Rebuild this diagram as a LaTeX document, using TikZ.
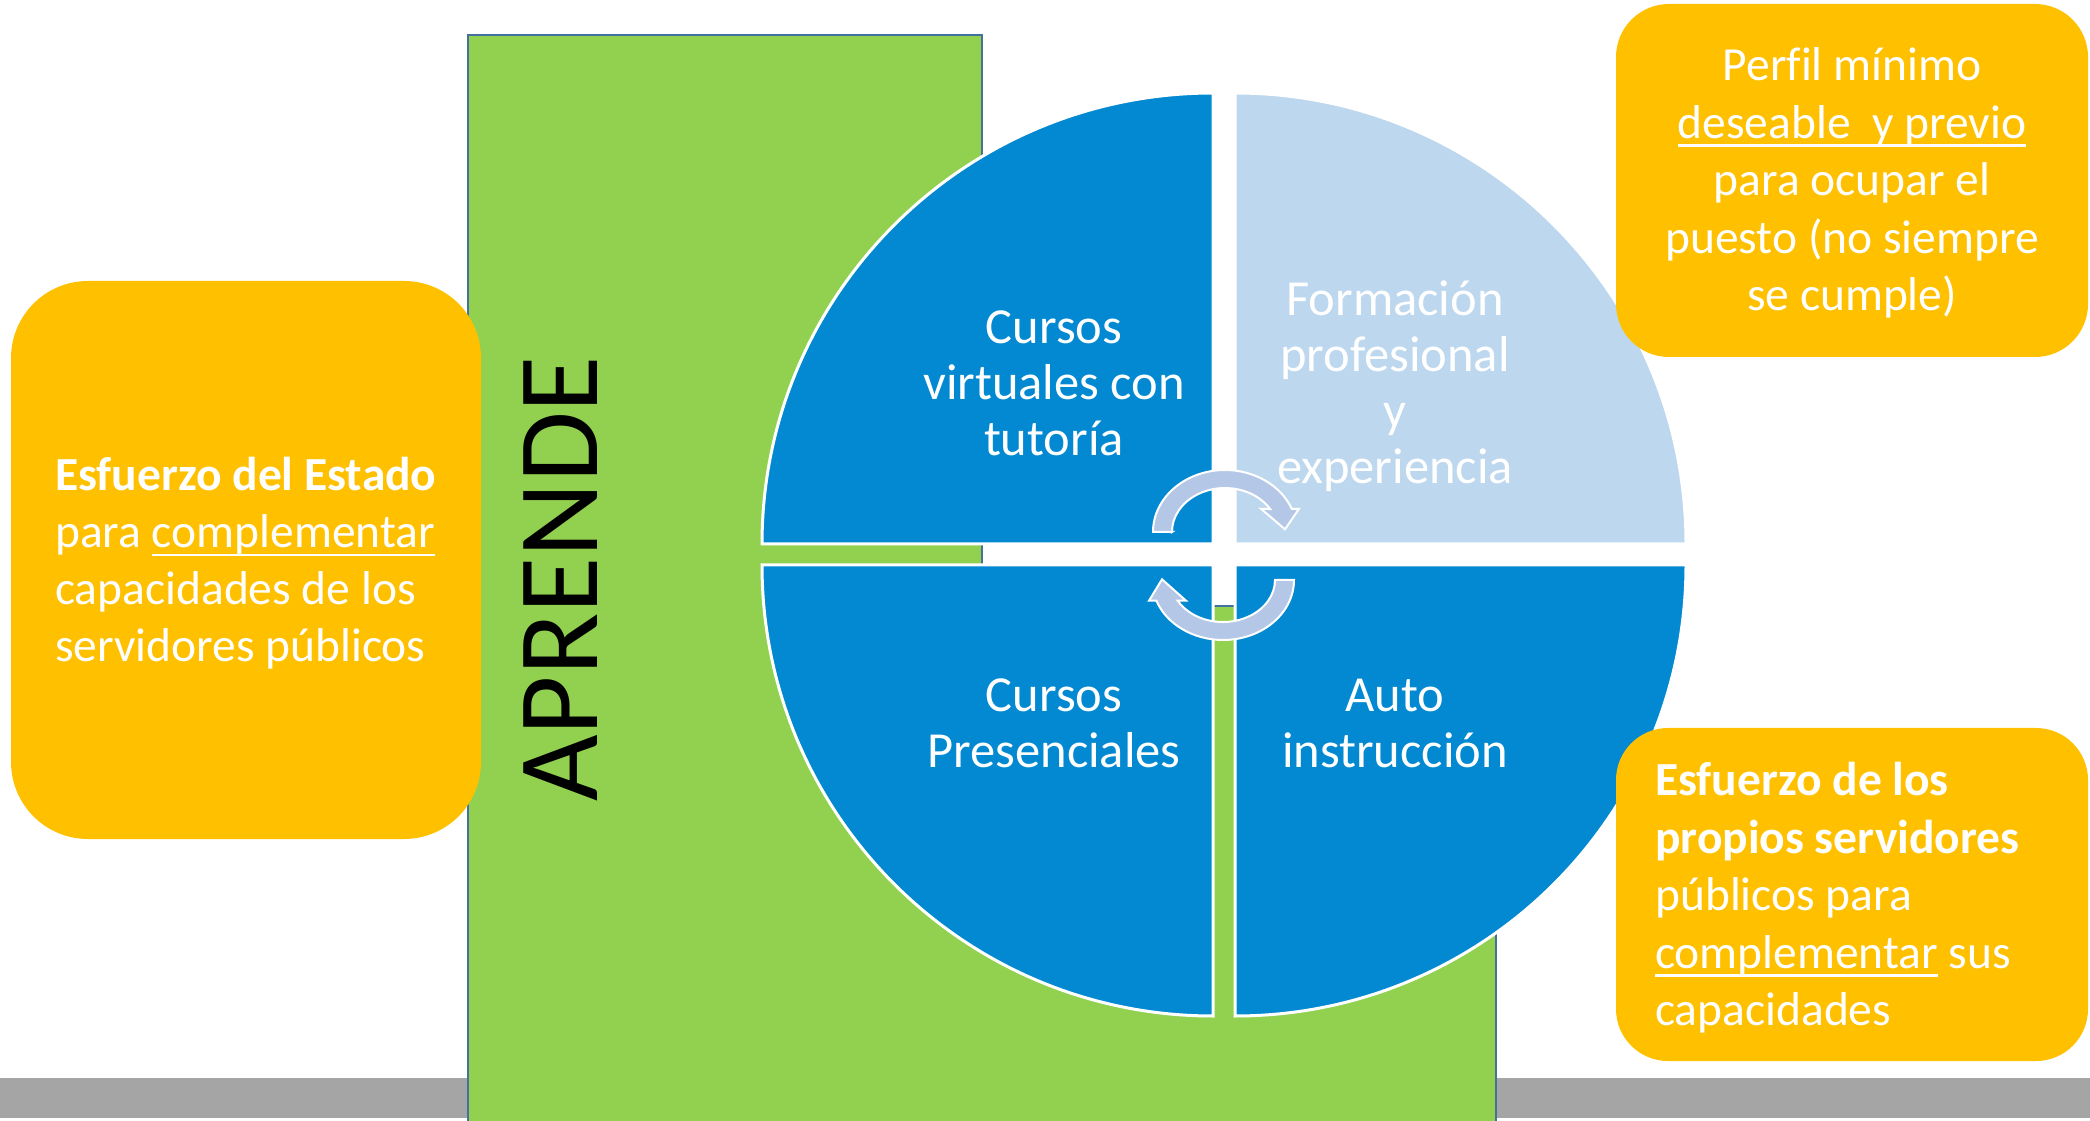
\documentclass[tikz,border=0pt]{standalone}
\usepackage{fontspec}
\setmainfont{Carlito}[Ligatures=NoCommon]
\newcommand\myul[1]{\setbox0\hbox{#1}\rlap{\rule[-8.5pt]{\wd0}{2.5pt}}\box0\relax}
\definecolor{qblue}{RGB}{2,137,209}
\definecolor{qlight}{RGB}{189,215,238}
\definecolor{agreen}{RGB}{146,208,80}
\definecolor{gborder}{RGB}{65,113,156}
\definecolor{obox}{RGB}{255,192,0}
\definecolor{gbar}{RGB}{165,165,165}
\definecolor{arrowc}{RGB}{180,199,231}
\tikzset{
  qtxt/.style={font=\fontsize{50.5}{56}\selectfont, text=white, inner sep=0pt, anchor=base},
  btxt/.style={font=\fontsize{47.5}{57}\selectfont, text=white, inner sep=0pt},
  quad/.style={draw=white, line width=3pt},
  orbox/.style={fill=obox, draw=none, inner sep=0pt},
  carrow/.style={fill=arrowc, draw=white, line width=2pt, line join=miter},
}
\begin{document}
\begin{tikzpicture}[x=1pt,y=1pt]
\useasboundingbox (0,0) rectangle (2090,1120);
\clip (0,0) rectangle (2090,1120);
% gray bar
\fill[gbar] (0,2) rectangle (2090,42);
% green shape
\filldraw[fill=agreen, draw=gborder, line width=2.5pt]
  (468,1085) -- (982,1085) -- (982,514) -- (1496,514) -- (1496,-5) -- (468,-5) -- cycle;
% quadrants
\filldraw[quad, fill=qblue] (1213,576) -- (1213,1027) arc[start angle=90, end angle=180, radius=451] -- cycle;
\filldraw[quad, fill=qlight] (1235,576) -- (1686,576) arc[start angle=0, end angle=90, radius=451] -- cycle;
\filldraw[quad, fill=qblue] (1213,555) -- (762,555) arc[start angle=180, end angle=270, radius=451] -- cycle;
\filldraw[quad, fill=qblue] (1235,555) -- (1235,104) arc[start angle=270, end angle=360, radius=451] -- cycle;
% circular arrows
\filldraw[carrow] (1172,588) -- (1153,588)
  arc[start angle=180, end angle=22, x radius=72, y radius=62]
  -- (1299,611.2) -- (1285,590.7) -- (1261,611.2) -- (1270.2,610.9)
  arc[start angle=31.4, end angle=180, x radius=53, y radius=44] -- cycle;
\filldraw[carrow] (1275,540) -- (1294,540)
  arc[start angle=0, end angle=-159.8, x radius=71, y radius=60]
  -- (1149,519.3) -- (1162,540.7) -- (1186,519.3) -- (1177.7,519.3)
  arc[start angle=-150.5, end angle=0, x radius=52, y radius=42] -- cycle;
% quadrant texts
\node[qtxt] (tl1) at (1054,776) {Cursos};
\node[qtxt] (tl2) at (1054,720) {virtuales con};
\node[qtxt] (tl3) at (1054,664) {tutoría};
\node[qtxt] (tr1) at (1395,804) {Formación};
\node[qtxt] (tr2) at (1395,748) {profesional};
\node[qtxt] (tr3) at (1395,692) {y};
\node[qtxt] (tr4) at (1395,636) {experiencia};
\node[qtxt] (bl1) at (1054,408) {Cursos};
\node[qtxt] (bl2) at (1054,353) {Presenciales};
\node[qtxt] (br1) at (1395,408) {Auto};
\node[qtxt] (br2) at (1395,353) {instrucción};
% APRENDE
\node[rotate=90, anchor=base, inner sep=0pt, font=\fontsize{115}{120}\selectfont, text=black] (aprende) at (597,541) {APRENDE};
% orange boxes
\node[orbox, minimum width=470, minimum height=558, rounded corners=77] (leftbox) at (246,560) {};
\node[orbox, minimum width=472, minimum height=353, rounded corners=53] (trbox) at (1852,939.5) {};
\node[orbox, minimum width=472, minimum height=333, rounded corners=52] (brbox) at (1852,225.5) {};
% left box text
\node[btxt, anchor=base west] (l1) at (55,629) {\textbf{Esfuerzo del Estado}};
\node[btxt, anchor=base west] (l2) at (55,572) {para \myul{complementar}};
\node[btxt, anchor=base west] (l3) at (55,515) {capacidades de los};
\node[btxt, anchor=base west] (l4) at (55,458) {servidores públicos};
% top right box text
\node[btxt, anchor=base] (t1) at (1852,1039) {Perfil mínimo};
\node[btxt, anchor=base] (t2) at (1852,981.5) {\myul{deseable\ \ y previo}};
\node[btxt, anchor=base] (t3) at (1852,924) {para ocupar el};
\node[btxt, anchor=base] (t4) at (1852,866.5) {puesto (no siempre};
\node[btxt, anchor=base] (t5) at (1852,809) {se cumple)};
% bottom right box text
\node[btxt, anchor=base west] (b1) at (1655,325) {\textbf{Esfuerzo de los}};
\node[btxt, anchor=base west] (b2) at (1655,267) {\textbf{propios servidores}};
\node[btxt, anchor=base west] (b3) at (1655,210) {públicos para};
\node[btxt, anchor=base west] (b4) at (1655,152) {\myul{complementar} sus};
\node[btxt, anchor=base west] (b5) at (1655,95) {capacidades};
\end{tikzpicture}
\end{document}
